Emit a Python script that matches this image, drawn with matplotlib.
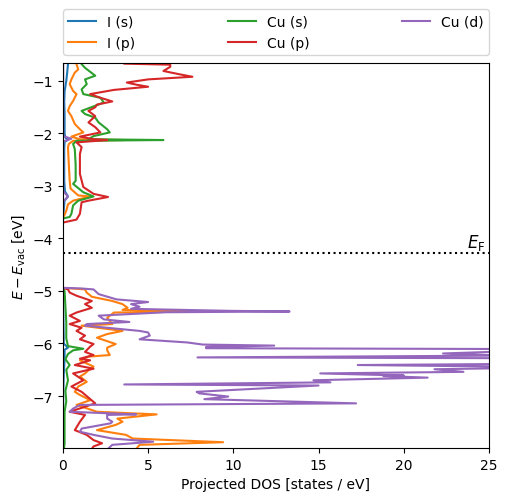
import matplotlib
matplotlib.use("Agg")
import matplotlib.pyplot as plt

# energies [eV] and projected DOS [states/eV]
is_e = [-0.6, -0.68, -0.85, -1.0, -1.2, -1.4, -1.6, -1.8, -2.0, -2.08, -2.12, -2.16, -2.3,
        -2.6, -2.9, -3.1, -3.2, -3.28, -3.45, -3.6, -3.7,
        -4.94, -5.5, -6.0, -6.08, -6.12, -6.3, -6.6, -7.0, -8.05]
is_dos = [0.3, 0.3, 0.25, 0.2, 0.1, 0.08, 0.1, 0.1, 0.1, 0.15, 0.3, 0.1, 0.08,
          0.08, 0.08, 0.12, 0.3, 0.1, 0.05, 0.02, 0.0,
          0.0, 0.03, 0.05, 0.3, 0.1, 0.1, 0.05, 0.02, 0.0]

ip_e = [-0.6, -0.68, -0.78, -0.84, -0.97, -1.06, -1.19, -1.25, -1.38, -1.48, -1.57, -1.67,
        -1.82, -1.92, -1.98, -2.06, -2.11, -2.125, -2.14, -2.2, -2.26, -2.6, -2.9, -3.05,
        -3.18, -3.2, -3.28, -3.35, -3.47, -3.55, -3.6,
        -4.94, -4.97, -5.03, -5.11, -5.19, -5.25, -5.32, -5.36, -5.39, -5.41, -5.51, -5.63,
        -5.66, -5.76, -5.82, -5.89, -6.01, -6.08, -6.13, -6.22, -6.25, -6.32, -6.38, -6.44,
        -6.51, -6.57, -6.63, -6.73, -6.82, -6.92, -6.98, -7.08, -7.17, -7.3, -7.35, -7.43,
        -7.49, -7.55, -7.65, -7.74, -7.81, -7.88, -7.93, -8.05]
ip_dos = [0.8, 0.8, 0.9, 0.7, 0.5, 0.4, 0.6, 0.8, 0.6, 0.4, 0.3, 0.5,
          0.7, 1.0, 1.2, 0.5, 1.0, 3.5, 0.6, 0.35, 0.3, 0.35, 0.4, 0.45,
          0.9, 1.6, 0.6, 0.3, 0.2, 0.1, 0.0,
          0.0, 1.3, 1.4, 1.7, 2.9, 3.5, 3.8, 3.5, 8.6, 3.0, 2.6, 2.9,
          1.1, 3.5, 2.6, 2.0, 3.1, 2.6, 2.6, 2.75, 1.5, 1.0, 1.4, 1.8,
          1.5, 1.3, 1.0, 1.4, 0.9, 0.7, 1.0, 1.6, 0.8, 2.0, 5.5, 3.2,
          3.5, 3.1, 2.0, 3.7, 4.1, 9.4, 4.5, 4.2]

cus_e = [-0.6, -0.68, -0.75, -0.9, -0.97, -1.06, -1.16, -1.25, -1.32, -1.41, -1.57, -1.63,
         -1.7, -1.79, -1.92, -1.98, -2.05, -2.11, -2.125, -2.14, -2.2, -2.3, -2.6, -2.9,
         -2.96, -3.12, -3.2, -3.28, -3.37, -3.53, -3.59, -3.62,
         -4.94, -5.0, -5.3, -5.6, -5.9, -6.05, -6.1, -6.13, -6.2, -6.3, -6.41, -6.5, -6.7,
         -6.9, -7.1, -7.3, -7.6, -7.9, -8.05]
cus_dos = [1.0, 1.1, 1.3, 1.9, 1.3, 1.4, 1.1, 1.2, 2.2, 2.4, 1.1, 1.3,
           1.9, 2.1, 2.6, 2.75, 1.8, 1.5, 5.9, 0.8, 0.6, 0.7, 0.75, 0.75,
           0.6, 1.2, 1.8, 0.9, 0.6, 0.5, 0.4, 0.0,
           0.0, 0.1, 0.15, 0.2, 0.2, 0.3, 1.2, 0.6, 0.3, 0.15, 0.4, 0.2, 0.3,
           0.15, 0.2, 0.1, 0.1, 0.1, 0.05]

cup_e = [-0.6, -0.67, -0.69, -0.73, -0.81, -0.87, -0.92, -0.97, -1.03, -1.07, -1.11, -1.17,
         -1.25, -1.32, -1.39, -1.45, -1.5, -1.57, -1.67, -1.79, -1.88, -1.98, -2.06, -2.11,
         -2.125, -2.17, -2.26, -2.39, -2.77, -3.02, -3.15, -3.21, -3.28, -3.31, -3.53,
         -3.64, -3.69, -3.7,
         -4.94, -4.97, -5.03, -5.09, -5.19, -5.25, -5.32, -5.41, -5.47, -5.57, -5.63, -5.7,
         -5.76, -5.85, -5.92, -6.01, -6.06, -6.16, -6.22, -6.29, -6.32, -6.41, -6.48, -6.57,
         -6.7, -6.82, -6.92, -7.14, -7.3, -7.36, -7.49, -7.65, -7.74, -7.84, -7.9, -7.96, -8.05]
cup_dos = [3.2, 3.6, 6.3, 6.3, 5.9, 6.8, 7.6, 5.0, 3.75, 4.3, 5.0, 3.0,
           1.6, 2.2, 2.9, 2.0, 1.9, 1.5, 1.9, 1.5, 1.9, 2.2, 1.0, 1.8,
           2.6, 0.8, 1.1, 1.0, 1.0, 1.2, 1.8, 2.65, 1.5, 1.1, 1.0,
           0.8, 0.1, 0.0,
           0.0, 0.3, 0.4, 0.8, 1.7, 1.3, 1.7, 0.8, 0.4, 1.0, 0.4, 1.1,
           0.8, 1.3, 1.0, 1.8, 1.6, 1.3, 1.8, 1.0, 1.6, 0.7, 1.8, 0.6,
           1.2, 0.5, 1.1, 1.9, 0.4, 1.3, 1.0, 0.7, 1.4, 1.8, 2.3, 1.8, 1.6]

cud_e = [-0.6, -2.05, -2.1, -2.15, -3.1, -3.2, -3.3, -3.7,
         -4.94, -4.95, -4.97, -5.06, -5.16, -5.21, -5.25, -5.3, -5.34, -5.378, -5.39, -5.405,
         -5.47, -5.54, -5.59, -5.63, -5.66, -5.76, -5.79, -5.85, -5.92, -5.98, -6.02, -6.04,
         -6.065, -6.09, -6.105, -6.15, -6.19, -6.23, -6.265, -6.28, -6.39, -6.41, -6.44,
         -6.47, -6.49, -6.54, -6.57, -6.61, -6.62, -6.65, -6.7, -6.74, -6.78, -6.8, -6.92,
         -6.95, -7.01, -7.06, -7.14, -7.17, -7.24, -7.3, -7.35, -7.36, -7.43, -7.49, -7.52,
         -7.62, -7.68, -7.74, -7.81, -7.87, -7.93, -8.05]
cud_dos = [0.02, 0.02, 0.5, 0.02, 0.02, 0.3, 0.02, 0.0,
           0.0, 1.0, 1.8, 2.1, 3.15, 5.0, 4.0, 4.5, 4.0, 9.8, 13.3, 6.0,
           2.1, 2.4, 3.9, 1.4, 1.3, 4.5, 5.0, 5.1, 4.5, 7.3, 8.2, 12.4,
           8.4, 8.4, 26.0, 26.0, 22.3, 26.0, 7.9, 26.0, 26.0, 17.3, 26.0,
           26.0, 21.8, 23.5, 15.1, 20.0, 18.8, 21.4, 14.7, 15.7, 3.6, 15.0, 7.85,
           8.0, 9.7, 8.3, 17.2, 1.0, 0.6, 0.4, 4.3, 2.6, 2.6, 2.9, 2.8,
           1.1, 1.0, 1.8, 2.9, 5.3, 2.9, 2.5]

labels = ["I (s)", "I (p)", "Cu (s)", "Cu (p)", "Cu (d)"]
e_fermi = -4.28

fig = plt.figure(figsize=(5.07, 5.02), dpi=100)
ax = fig.add_axes([0.124, 0.1056, 0.8405, 0.767])

curves = [(is_dos, is_e), (ip_dos, ip_e), (cus_dos, cus_e), (cup_dos, cup_e), (cud_dos, cud_e)]
for (x, y), lab in zip(curves, labels):
    ax.plot(x, y, label=lab)

ax.axhline(e_fermi, color="k", ls=":", lw=1.5)
ax.text(24.8, e_fermi + 0.03, r"$E_\mathrm{F}$", ha="right", va="bottom", fontsize=12)

ax.set_xlim(0, 25)
ax.set_ylim(-7.99, -0.657)
ax.set_xlabel("Projected DOS [states / eV]")
ax.set_ylabel(r"$E - E_\mathrm{vac}$ [eV]")
ax.legend(loc="lower left", bbox_to_anchor=(0, 1.02, 1, 0.2), mode="expand",
          ncol=3, borderaxespad=0)

fig.savefig("out.png", dpi=100)
